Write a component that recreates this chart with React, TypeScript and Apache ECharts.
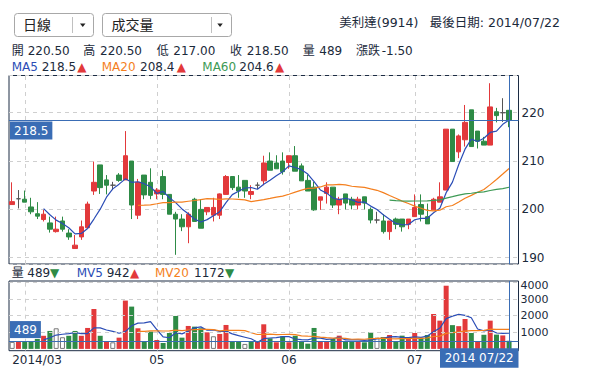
import { useEffect, useRef } from 'react';
import * as echarts from 'echarts';

const dates = [
  '2014/03/28', '2014/03/31',
  '2014/04/01', '2014/04/02', '2014/04/03', '2014/04/07', '2014/04/08', '2014/04/09', '2014/04/10', '2014/04/11',
  '2014/04/14', '2014/04/15', '2014/04/16', '2014/04/17', '2014/04/18', '2014/04/21', '2014/04/22', '2014/04/23',
  '2014/04/24', '2014/04/25', '2014/04/28', '2014/04/29', '2014/04/30',
  '2014/05/02', '2014/05/05', '2014/05/06', '2014/05/07', '2014/05/08', '2014/05/09', '2014/05/12', '2014/05/13',
  '2014/05/14', '2014/05/15', '2014/05/16', '2014/05/19', '2014/05/20', '2014/05/21', '2014/05/22', '2014/05/23',
  '2014/05/26', '2014/05/27', '2014/05/28', '2014/05/29', '2014/05/30',
  '2014/06/03', '2014/06/04', '2014/06/05', '2014/06/06', '2014/06/09', '2014/06/10', '2014/06/11', '2014/06/12',
  '2014/06/13', '2014/06/16', '2014/06/17', '2014/06/18', '2014/06/19', '2014/06/20', '2014/06/23', '2014/06/24',
  '2014/06/25', '2014/06/26', '2014/06/27', '2014/06/30',
  '2014/07/01', '2014/07/02', '2014/07/03', '2014/07/04', '2014/07/07', '2014/07/08', '2014/07/09', '2014/07/10',
  '2014/07/11', '2014/07/14', '2014/07/15', '2014/07/16', '2014/07/17', '2014/07/18', '2014/07/21', '2014/07/22',
];

const opens = [
  201.0, 202.2, 202.1, 200.5, 199.1, 197.9, 197.2, 195.4, 197.6, 195.1,
  191.9, 194.3, 196.2, 203.8, 209.2, 206.1, 205.0, 207.1, 206.1, 210.0,
  198.8, 207.1, 205.6, 203.2, 206.8, 203.1, 199.0, 198.0, 196.4, 202.1,
  200.0, 199.5, 198.8, 198.8, 203.1, 206.8, 204.6, 206.0, 203.1, 205.0,
  205.9, 210.0, 209.6, 210.0, 209.7, 211.1, 209.0, 206.0, 204.6, 201.9,
  203.3, 204.6, 200.9, 203.2, 202.1, 200.9, 202.6, 200.0, 197.8, 197.6,
  195.4, 198.0, 198.0, 196.9, 198.5, 201.0, 198.5, 199.9, 201.5, 204.0,
  216.6, 211.9, 214.4, 220.6, 216.2, 214.1, 213.3, 220.2, 220.0, 220.5,
];

const closes = [
  201.6, 202.2, 201.5, 199.5, 198.6, 199.0, 195.9, 195.9, 195.9, 194.3,
  192.6, 196.4, 201.1, 205.6, 204.5, 205.0, 205.0, 206.0, 211.1, 200.9,
  205.6, 203.0, 202.9, 204.0, 203.1, 199.0, 198.0, 196.4, 199.0, 197.5,
  196.1, 200.4, 200.4, 203.2, 206.8, 204.5, 203.8, 203.8, 203.7, 205.0,
  209.6, 208.1, 208.4, 207.8, 211.1, 207.9, 205.9, 203.8, 199.9, 202.6,
  204.6, 200.9, 202.1, 201.3, 200.9, 202.1, 201.3, 197.8, 197.8, 195.4,
  197.6, 196.9, 196.4, 198.0, 200.4, 199.0, 197.0, 202.1, 202.6, 216.6,
  209.9, 215.2, 218.0, 213.0, 214.1, 213.3, 221.2, 219.4, 220.0, 218.5,
];

const lows = [
  201.0, 200.2, 201.5, 199.0, 198.0, 197.5, 195.2, 195.2, 195.4, 193.7,
  191.9, 193.7, 196.2, 203.0, 203.2, 203.1, 204.0, 205.7, 206.1, 198.0,
  198.0, 202.1, 202.1, 202.1, 202.1, 199.0, 190.6, 195.5, 193.0, 197.5,
  196.1, 198.8, 197.5, 198.0, 203.1, 204.0, 202.4, 202.4, 202.1, 204.2,
  205.0, 208.1, 208.4, 207.2, 208.4, 207.9, 205.9, 203.8, 199.7, 199.9,
  201.2, 200.3, 199.0, 200.0, 200.0, 200.0, 200.0, 197.1, 197.1, 195.0,
  193.7, 195.9, 195.4, 195.9, 198.5, 197.5, 197.0, 199.9, 201.5, 204.0,
  209.9, 210.6, 213.0, 213.0, 212.6, 213.3, 213.3, 218.0, 218.1, 217.0,
];

const highs = [
  205.6, 204.0, 203.9, 202.4, 201.5, 199.9, 198.5, 198.5, 198.5, 195.9,
  194.7, 197.7, 201.6, 209.9, 209.2, 207.1, 205.7, 207.5, 216.2, 210.0,
  206.3, 207.1, 208.5, 204.4, 208.1, 203.1, 199.5, 199.0, 199.4, 202.4,
  202.1, 200.4, 202.4, 203.3, 207.1, 206.8, 207.1, 206.0, 205.0, 205.6,
  211.1, 211.8, 211.2, 211.8, 211.1, 213.1, 209.5, 207.2, 205.7, 202.6,
  205.6, 204.6, 202.6, 203.2, 202.6, 202.6, 202.6, 200.4, 199.5, 199.0,
  197.6, 198.3, 198.0, 198.0, 203.1, 203.1, 201.2, 202.4, 205.6, 216.6,
  216.6, 215.5, 221.6, 220.6, 216.2, 215.0, 226.1, 221.0, 223.0, 220.5,
];

const volumes = [
  420, 440, 440, 450, 600, 790, 1080, 1240, 700, 790,
  1080, 790, 1260, 2400, 790, 436, 396, 677, 2906, 2544,
  1240, 476, 1038, 536, 355, 958, 1982, 677, 1380, 1339,
  1240, 998, 760, 900, 1440, 436, 436, 300, 436, 420,
  1480, 636, 400, 760, 400, 790, 436, 315, 1260, 436,
  436, 596, 797, 436, 436, 476, 396, 998, 677, 717,
  837, 436, 797, 596, 958, 677, 837, 2100, 1700, 3800,
  1430, 1368, 1800, 958, 436, 850, 1700, 860, 811, 489,
];

const prevClose = 201.6;
const xLabelIdx = [0, 23, 44, 64];
const volTicks = [1000, 2000, 3000, 4000];
const priceRange = [188.7, 227.7];
const volRange = [-108, 4084];

const FAM = '"DejaVu Sans", "Noto Sans CJK TC", sans-serif';
const F12 = `12px ${FAM}`;
const TEXT = '#1b2a3b';
const RED = '#e2393b';
const GREEN = '#2e8b46';
const BLUE = '#2b4db6';
const ORANGE = '#f47f1e';
const MA60C = '#3d9a55';
const CROSS = '#3a6db5';
const GRIDC = '#cfcfcf';
const BORDER = '#1c2c44';

function movingAvg(arr: number[], n: number) {
  return arr.map((_, i) => {
    if (i < n) return null;
    let s = 0;
    for (let k = i - n + 1; k <= i; k++) s += arr[k];
    return +(s / n).toFixed(2);
  });
}

function txt(x: number, y: number, text: string, fill: string, font = F12, align = 'left') {
  return {
    type: 'text',
    x,
    y,
    silent: true,
    z: 100,
    style: { text, fill, font, align, textAlign: align, verticalAlign: 'middle', textVerticalAlign: 'middle' },
  };
}

// vertical line through a whole grid at category index, via the axis scales
function vLineSeries(xi: number, yi: number, idxs: number[], range: number[], style: any, z: number) {
  return {
    type: 'custom',
    xAxisIndex: xi,
    yAxisIndex: yi,
    silent: true,
    clip: true,
    z,
    data: idxs.map((i) => [i, range[0], range[1]]),
    encode: { x: 0, y: [1, 2] },
    renderItem: (_p: any, api: any) => {
      const a = api.coord([api.value(0), api.value(1)]);
      const b = api.coord([api.value(0), api.value(2)]);
      const x = Math.round(a[0]) + 0.5;
      return {
        type: 'line',
        shape: { x1: x, y1: a[1], x2: x, y2: b[1] },
        style: { ...style, fill: null },
      };
    },
  };
}

export default function App() {
  const ref = useRef<HTMLDivElement>(null);

  useEffect(() => {
    if (!ref.current) return;
    const chart = echarts.init(ref.current, null, { renderer: 'svg' });
    const cats = [...dates, ''];
    const n = dates.length;
    const last = n - 1;
    const monthIdx = dates
      .map((d, i) => (i > 0 && d.slice(5, 7) !== dates[i - 1].slice(5, 7) ? i : -1))
      .filter((i) => i >= 0);

    const candleData = dates.map((_, i) => [opens[i], closes[i], lows[i], highs[i]]);
    const volData = volumes.map((v, i) => {
      const pc = i === 0 ? prevClose : closes[i - 1];
      const dir = closes[i] > pc ? 1 : closes[i] < pc ? -1 : 0;
      const color = dir > 0 ? RED : dir < 0 ? GREEN : '#ffffff';
      return {
        value: v,
        itemStyle: { color, borderColor: dir === 0 ? '#777777' : color, borderWidth: dir === 0 ? 1 : 0 },
      };
    });
    const nulls = dates.map(() => null);

    const dashed = { color: GRIDC, type: [4, 4], width: 1 };
    const dashedG = { stroke: GRIDC, lineDash: [4, 4], lineWidth: 1 };
    const crossG = { stroke: CROSS, lineWidth: 1 };
    const solidCross = { color: CROSS, type: 'solid', width: 1 };

    const option: any = {
      animation: false,
      backgroundColor: '#ffffff',
      grid: [
        { left: 9, top: 75.5, width: 509.5, height: 188.5, show: true, borderColor: BORDER, borderWidth: 1, backgroundColor: 'transparent' },
        { left: 9, top: 281, width: 509.5, height: 69.7, show: true, borderColor: BORDER, borderWidth: 1, backgroundColor: 'transparent' },
      ],
      xAxis: [
        {
          type: 'category', gridIndex: 0, data: cats, boundaryGap: true,
          axisLine: { show: false }, axisTick: { show: false }, axisLabel: { show: false }, splitLine: { show: false },
          axisPointer: { show: false },
        },
        {
          type: 'category', gridIndex: 1, data: cats, boundaryGap: true,
          axisLine: { show: false }, axisTick: { show: false }, splitLine: { show: false },
          axisPointer: { show: false },
          axisLabel: {
            show: true,
            interval: (idx: number) => xLabelIdx.includes(idx),
            formatter: (v: string, idx: number) => (idx === 0 ? v.slice(0, 7) : v.slice(5, 7)),
            color: TEXT, fontSize: 12, fontFamily: FAM, margin: 3,
            alignMinLabel: 'left',
          },
        },
      ],
      yAxis: [
        {
          type: 'value', gridIndex: 0, position: 'right', min: priceRange[0], max: priceRange[1],
          axisLine: { show: false }, axisTick: { show: false },
          axisLabel: {
            color: TEXT, fontSize: 12, fontFamily: FAM, margin: 3, showMinLabel: false, showMaxLabel: false,
            formatter: (v: number) => (Math.abs(v % 10) < 1e-6 ? String(v) : ''),
          },
          splitLine: { show: true, lineStyle: dashed },
        },
        {
          type: 'value', gridIndex: 1, position: 'right', min: volRange[0], max: volRange[1],
          axisLine: { show: false }, axisTick: { show: false },
          axisLabel: {
            color: TEXT, fontSize: 11, fontFamily: FAM, margin: 2, showMinLabel: false, showMaxLabel: false,
            lineHeight: 10,
            formatter: (v: number) => (v === 4000 ? '{top|4000}' : volTicks.includes(v) ? String(v) : ''),
            rich: {
              top: { padding: [6, 0, 0, 0], fontSize: 11, lineHeight: 10, fontFamily: FAM, color: TEXT },
            },
          },
          splitLine: { show: false },
        },
      ],
      series: [
        vLineSeries(0, 0, monthIdx, priceRange, dashedG, 1),
        vLineSeries(1, 1, monthIdx, volRange, dashedG, 1),
        {
          type: 'line', xAxisIndex: 1, yAxisIndex: 1, data: nulls, z: 1, silent: true, symbol: 'none',
          markLine: {
            silent: true, symbol: ['none', 'none'], animation: false, label: { show: false },
            data: volTicks.map((t) => ({ yAxis: t, lineStyle: dashed, label: { show: false } })),
          },
        },
        {
          type: 'candlestick', xAxisIndex: 0, yAxisIndex: 0, data: candleData, barWidth: 5, z: 2,
          itemStyle: {
            color: RED, color0: GREEN, borderColor: RED, borderColor0: GREEN, borderColorDoji: '#555555', borderWidth: 1,
          },
        },
        {
          type: 'line', xAxisIndex: 0, yAxisIndex: 0, data: movingAvg(closes, 5), symbol: 'none', z: 3,
          lineStyle: { color: BLUE, width: 1.2 },
        },
        {
          type: 'line', xAxisIndex: 0, yAxisIndex: 0, data: movingAvg(closes, 20), symbol: 'none', z: 3,
          lineStyle: { color: ORANGE, width: 1.2 },
        },
        {
          type: 'line', xAxisIndex: 0, yAxisIndex: 0, data: movingAvg(closes, 60), symbol: 'none', z: 3,
          lineStyle: { color: MA60C, width: 1.2 },
        },
        vLineSeries(0, 0, [last], priceRange, crossG, 6),
        {
          type: 'line', xAxisIndex: 0, yAxisIndex: 0, data: nulls, z: 6, silent: true, symbol: 'none',
          markLine: {
            silent: true, symbol: ['none', 'none'], animation: false, label: { show: false },
            data: [
              {
                yAxis: closes[last], lineStyle: solidCross,
                label: {
                  show: true, position: 'insideStartBottom', formatter: String(closes[last]),
                  color: '#ffffff', backgroundColor: CROSS, padding: [3, 4, 2, 4], lineHeight: 13,
                  fontSize: 12, fontFamily: FAM, distance: [1, 1.5],
                },
              },
            ],
          },
        },
        {
          type: 'bar', xAxisIndex: 1, yAxisIndex: 1, data: volData, barWidth: 5, z: 2,
        },
        {
          type: 'line', xAxisIndex: 1, yAxisIndex: 1, data: movingAvg(volumes, 5), symbol: 'none', z: 3,
          lineStyle: { color: BLUE, width: 1.2 },
        },
        {
          type: 'line', xAxisIndex: 1, yAxisIndex: 1, data: movingAvg(volumes, 20), symbol: 'none', z: 3,
          lineStyle: { color: ORANGE, width: 1.2 },
        },
        vLineSeries(1, 1, [last], volRange, crossG, 6),
        {
          type: 'line', xAxisIndex: 1, yAxisIndex: 1, data: nulls, z: 6, silent: true, symbol: 'none',
          markLine: {
            silent: true, symbol: ['none', 'none'], animation: false, label: { show: false },
            data: [
              {
                yAxis: volumes[last], lineStyle: solidCross,
                label: {
                  show: true, position: 'insideStartTop', formatter: String(volumes[last]),
                  color: '#ffffff', backgroundColor: CROSS, padding: [2, 4, 2, 4], lineHeight: 13,
                  fontSize: 12, fontFamily: FAM, distance: [1, 2.7],
                },
              },
            ],
          },
        },
      ],
      graphic: [
        // dropdowns
        { type: 'rect', shape: { x: 14.5, y: 13.5, width: 79, height: 23, r: 3 }, style: { fill: '#ffffff', stroke: '#a8a8a8', lineWidth: 1 }, silent: true, z: 90 },
        { type: 'line', shape: { x1: 72.5, y1: 17, x2: 72.5, y2: 33 }, style: { stroke: '#c0c0c0', lineWidth: 1 }, silent: true, z: 91 },
        { type: 'polygon', shape: { points: [[80, 23.5], [85.5, 23.5], [82.75, 27]] }, style: { fill: '#222222' }, silent: true, z: 91 },
        txt(23, 25, '日線', '#222222', `14px ${FAM}`),
        { type: 'rect', shape: { x: 102.5, y: 13.5, width: 129, height: 23, r: 3 }, style: { fill: '#ffffff', stroke: '#a8a8a8', lineWidth: 1 }, silent: true, z: 90 },
        { type: 'line', shape: { x1: 211.5, y1: 17, x2: 211.5, y2: 33 }, style: { stroke: '#c0c0c0', lineWidth: 1 }, silent: true, z: 91 },
        { type: 'polygon', shape: { points: [[217.3, 23.5], [222.8, 23.5], [220.05, 27]] }, style: { fill: '#222222' }, silent: true, z: 91 },
        txt(111.5, 25, '成交量', '#222222', `14px ${FAM}`),
        // title
        txt(339.3, 22.7, '美利達(9914)', TEXT, `12.5px ${FAM}`),
        txt(560, 22.7, '最後日期: 2014/07/22', TEXT, `12.5px ${FAM}`, 'right'),
        // info line
        txt(11.7, 50.7, '開', TEXT), txt(27.7, 50.7, '220.50', TEXT),
        txt(83.3, 50.7, '高', TEXT), txt(100, 50.7, '220.50', TEXT),
        txt(156.7, 50.7, '低', TEXT), txt(173.3, 50.7, '217.00', TEXT),
        txt(230, 50.7, '收', TEXT), txt(246.7, 50.7, '218.50', TEXT),
        txt(302.7, 50.7, '量', TEXT), txt(319.3, 50.7, '489', TEXT),
        txt(356, 50.7, '漲跌', TEXT), txt(381.7, 50.7, '-1.50', TEXT),
        // MA legend
        txt(11.7, 66.7, 'MA5', BLUE), txt(41.7, 66.7, '218.5', TEXT), txt(77.3, 66.7, '▲', RED),
        txt(101.7, 66.7, 'MA20', ORANGE), txt(140, 66.7, '208.4', TEXT), txt(176.7, 66.7, '▲', RED),
        txt(202.3, 66.7, 'MA60', MA60C), txt(239.3, 66.7, '204.6', TEXT), txt(275, 66.7, '▲', RED),
        // volume legend
        txt(11.7, 273.3, '量', TEXT), txt(27.3, 273.3, '489', TEXT), txt(50, 273.3, '▼', GREEN),
        txt(76.7, 273.3, 'MV5', BLUE), txt(106.7, 273.3, '942', TEXT), txt(130, 273.3, '▲', RED),
        txt(155, 273.3, 'MV20', ORANGE), txt(194, 273.3, '1172', TEXT), txt(225, 273.3, '▼', GREEN),
        // last date label
        { type: 'rect', shape: { x: 440, y: 348.3, width: 78.5, height: 19.4 }, style: { fill: CROSS }, silent: true, z: 95 },
        txt(479.2, 358, '2014 07/22', '#ffffff', F12, 'center'),
      ],
    };

    chart.setOption(option);
    return () => chart.dispose();
  }, []);

  return (
    <div
      ref={ref}
      style={{ position: 'fixed', left: 0, top: 0, width: 594, height: 378, background: '#ffffff' }}
    />
  );
}
